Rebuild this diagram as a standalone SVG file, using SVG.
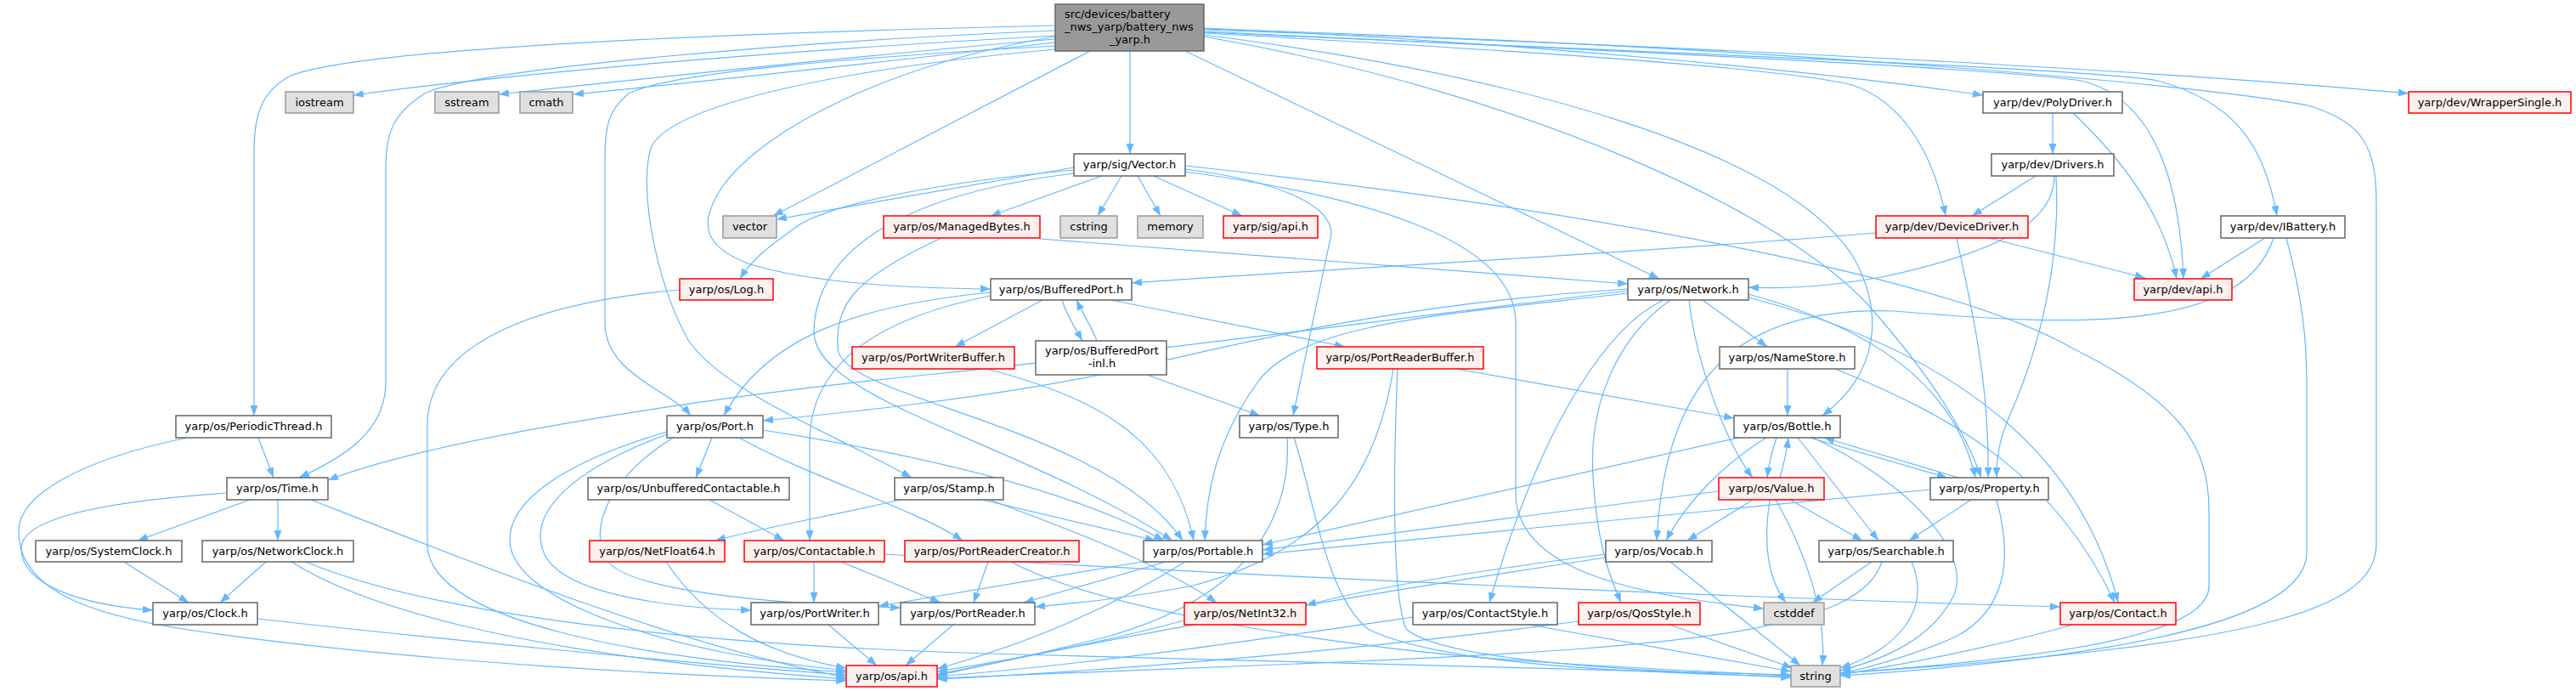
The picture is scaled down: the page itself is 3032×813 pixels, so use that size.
<svg xmlns="http://www.w3.org/2000/svg" width="3032" height="813" viewBox="0 0 3032 813">
<defs>
<marker id="a" viewBox="0 0 12 9" refX="12" refY="4.5" markerWidth="12" markerHeight="9" orient="auto" markerUnits="userSpaceOnUse"><path d="M0,0L12,4.5L0,9z" fill="#63b8ff"/></marker>
</defs>
<style>
rect{stroke-width:1.5}
.w rect{fill:#fff;stroke:#666}
.r rect{fill:#fff0f0;stroke:#f00}
.g rect{fill:#e0e0e0;stroke:#999}
.m rect{fill:#999;stroke:#666}
text{font-family:"DejaVu Sans","Liberation Sans",sans-serif;font-size:13px;fill:#000;text-anchor:middle}
text.s{text-anchor:start}
#edges path{fill:none;stroke:#63b8ff;stroke-width:1.2;marker-end:url(#a)}
</style>
<rect width="3032" height="813" fill="#fff" style="stroke:none"/>
<g id="edges">
<path d="M1242,42 C1000,55 650,80 416,112"/>
<path d="M1242,46 C1050,62 800,88 587,111"/>
<path d="M1242,50 C1080,68 850,94 675,111"/>
<path d="M1242,30 C900,38 420,55 340,90 C305,110 299,140 299,180 L299,489"/>
<path d="M1242,36 C950,48 560,80 500,110 C460,135 454,160 454,200 L454,450 C454,510 400,540 352,562"/>
<path d="M1242,54 C1000,68 790,85 740,110 C715,130 712,150 712,190 L712,380 C712,440 790,460 813,489"/>
<path d="M1242,58 C1000,80 800,120 768,170 C750,210 770,330 810,400 C850,460 980,510 1073,562"/>
<path d="M1242,43 C1050,75 900,150 850,220 C820,265 830,290 880,310 C960,335 1080,339 1166,340"/>
<path d="M1283,60 L910,254"/>
<path d="M1330,60 L1330,181"/>
<path d="M1395,60 L1953,328"/>
<path d="M1417,33 C1800,50 2150,85 2334,112"/>
<path d="M1417,35 C2000,55 2500,80 2835,110"/>
<path d="M1417,39 C1800,60 2100,80 2180,100 C2240,120 2275,180 2290,254"/>
<path d="M1417,37 C1900,60 2350,80 2450,95 C2530,115 2565,200 2570,328"/>
<path d="M1417,38 C1950,62 2450,80 2540,95 C2630,120 2665,170 2680,254"/>
<path d="M1417,34 C2100,55 2600,100 2720,125 C2780,145 2797,170 2797,240 L2797,640 C2797,720 2650,760 2166,792"/>
<path d="M1417,41 C1800,90 2100,180 2180,300 C2220,370 2210,440 2145,489"/>
<path d="M1417,43 C1800,110 2100,250 2200,360 C2270,440 2310,500 2332,562"/>
<path d="M1264,197 L914,258"/>
<path d="M1297,207 L1166,254"/>
<path d="M1320,207 L1292,254"/>
<path d="M1339,207 L1366,254"/>
<path d="M1358,207 L1462,254"/>
<path d="M1264,200 C1100,215 980,240 940,265 C905,290 885,305 871,328"/>
<path d="M1264,204 C1050,230 960,300 958,390 C957,470 1200,520 1380,636"/>
<path d="M1395,199 C1500,212 1567,240 1567,275 L1522,489"/>
<path d="M1395,202 C1600,230 1784,280 1784,380 L1784,580 C1784,670 1920,700 2076,716"/>
<path d="M1395,195 C1900,250 2300,330 2440,410 C2560,470 2600,520 2600,600 L2600,690 C2600,750 2400,775 2166,792"/>
<path d="M800,341 C640,355 503,400 503,500 L503,640 C503,730 750,775 996,791"/>
<path d="M304,515 L322,562"/>
<path d="M220,515 C100,540 22,580 22,625 C22,700 120,728 250,745 C500,780 800,795 996,801"/>
<path d="M294,588 L162,636"/>
<path d="M327,588 L327,636"/>
<path d="M267,580 C120,590 25,610 25,645 C25,690 100,712 180,718"/>
<path d="M366,588 C550,660 800,760 996,797"/>
<path d="M146,661 L222,709"/>
<path d="M313,661 L259,709"/>
<path d="M343,661 C420,710 600,770 996,799"/>
<path d="M360,661 C500,720 800,760 1200,770 C1600,780 1900,788 2108,794"/>
<path d="M303,728 C500,750 800,780 996,794"/>
<path d="M838,515 L819,562"/>
<path d="M898,506 C1050,530 1250,570 1370,636"/>
<path d="M870,515 C950,560 1080,600 1133,636"/>
<path d="M785,508 C660,545 600,590 600,635 C600,710 800,770 996,789"/>
<path d="M785,511 C680,550 620,600 640,650 C660,700 790,715 884,718"/>
<path d="M792,515 C720,560 690,620 715,660 C745,700 950,712 1060,715"/>
<path d="M835,588 L923,636"/>
<path d="M1059,588 C990,605 900,620 842,636"/>
<path d="M1156,588 L1360,636"/>
<path d="M1165,588 C1250,620 1360,660 1432,709"/>
<path d="M958,661 L958,709"/>
<path d="M990,661 L1107,709"/>
<path d="M1041,652 C1500,680 2100,705 2425,714"/>
<path d="M1163,661 L1146,709"/>
<path d="M1190,661 C1300,720 1600,765 1800,778 C1950,788 2050,792 2108,795"/>
<path d="M1350,660 L1034,713"/>
<path d="M1372,661 L1205,709"/>
<path d="M1395,661 C1300,720 1200,760 1103,787"/>
<path d="M975,735 L1032,783"/>
<path d="M1122,735 L1066,783"/>
<path d="M1394,730 C1300,755 1200,775 1103,790"/>
<path d="M784,661 C830,730 900,770 996,786"/>
<path d="M1523,515 C1545,580 1560,700 1610,740 C1700,785 1950,792 2108,796"/>
<path d="M1515,515 C1520,600 1480,700 1300,750 C1200,775 1150,785 1103,793"/>
<path d="M1250,353 C1255,370 1265,385 1274,401"/>
<path d="M1291,401 C1285,385 1275,370 1267,353"/>
<path d="M1350,441 L1483,489"/>
<path d="M1227,353 L1124,408"/>
<path d="M1308,353 L1583,408"/>
<path d="M1166,344 C1000,360 900,400 852,489"/>
<path d="M1166,348 C1030,375 953,430 953,520 L953,636"/>
<path d="M1161,434 C1300,470 1380,520 1405,636"/>
<path d="M1714,434 L2041,492"/>
<path d="M1645,434 C1640,550 1638,700 1655,740 C1700,780 1950,790 2108,797"/>
<path d="M1640,434 C1620,560 1560,650 1400,690 C1320,705 1260,710 1218,714"/>
<path d="M2104,434 L2104,489"/>
<path d="M2160,434 C2300,490 2420,560 2489,709"/>
<path d="M2004,353 L2080,408"/>
<path d="M1988,353 C1995,420 2030,520 2063,562"/>
<path d="M1958,353 C1900,380 1820,480 1753,709"/>
<path d="M1966,353 C1900,400 1870,480 1875,560 C1880,650 1900,690 1908,709"/>
<path d="M2058,346 C2200,385 2300,450 2325,562"/>
<path d="M2058,350 C2250,400 2440,500 2493,709"/>
<path d="M1916,345 C1700,370 1530,380 1480,450 C1430,520 1420,580 1418,636"/>
<path d="M1916,340 C1600,360 1400,420 1300,440 C1150,470 1000,485 898,495"/>
<path d="M1916,342 C1600,380 1300,420 1100,440 C800,470 500,520 386,565"/>
<path d="M2091,515 C2086,530 2082,545 2080,562"/>
<path d="M2095,562 C2100,545 2103,530 2105,515"/>
<path d="M2079,515 C2030,545 1985,590 1961,636"/>
<path d="M2116,515 L2211,636"/>
<path d="M2130,515 L2292,562"/>
<path d="M2305,562 L2147,515"/>
<path d="M2134,515 C2250,570 2320,650 2300,700 C2270,760 2200,780 2166,789"/>
<path d="M2046,515 L1486,641"/>
<path d="M2063,588 L1986,636"/>
<path d="M2107,588 L2192,636"/>
<path d="M2083,588 C2075,640 2080,680 2102,709"/>
<path d="M2090,588 C2125,650 2150,720 2145,783"/>
<path d="M2023,578 L1486,647"/>
<path d="M2320,588 L2247,636"/>
<path d="M2350,588 C2370,660 2360,720 2300,750 C2250,772 2200,785 2166,793"/>
<path d="M2272,576 L1486,652"/>
<path d="M2203,661 L2133,709"/>
<path d="M2250,661 C2275,720 2230,765 2166,786"/>
<path d="M2215,661 C2190,740 2000,760 1600,778 C1300,790 1150,795 1103,798"/>
<path d="M1966,661 L2119,783"/>
<path d="M1890,652 C1750,670 1620,690 1537,712"/>
<path d="M1890,656 C1600,700 1300,750 1103,795"/>
<path d="M1800,735 L2108,790"/>
<path d="M1663,726 C1500,750 1300,780 1103,796"/>
<path d="M1965,735 L2110,786"/>
<path d="M1858,731 C1600,765 1300,790 1103,799"/>
<path d="M2440,735 C2350,760 2250,780 2166,794"/>
<path d="M2396,207 L2321,254"/>
<path d="M2418,207 C2418,250 2380,290 2220,325 C2150,338 2100,340 2058,338"/>
<path d="M2420,207 C2425,300 2405,400 2365,490 C2352,520 2350,540 2350,562"/>
<path d="M2416,133 L2416,181"/>
<path d="M2440,133 C2500,190 2545,250 2562,328"/>
<path d="M2341,280 L2525,327"/>
<path d="M2303,280 C2320,360 2342,450 2340,562"/>
<path d="M2208,274 C1900,300 1500,320 1332,333"/>
<path d="M2666,280 L2590,328"/>
<path d="M2676,280 C2640,390 2450,385 2230,366 C2050,360 1960,440 1950,636"/>
<path d="M2691,280 C2710,350 2715,400 2715,450 L2715,650 C2715,720 2550,770 2166,795"/>
<path d="M1224,281 L1916,334"/>
<path d="M1108,280 C1000,330 984,360 986,410 C990,470 1300,500 1392,636"/>
</g>
<g id="n-main" class="m"><rect x="1242" y="5" width="175" height="55"/><text class="s" x="1253" y="21">src/devices/battery</text><text class="s" x="1253" y="36">_nws_yarp/battery_nws</text><text x="1330" y="51">_yarp.h</text></g>
<g id="n-iostream" class="g"><rect x="336" y="108" width="80" height="25"/><text x="376" y="125">iostream</text></g>
<g id="n-sstream" class="g"><rect x="512" y="108" width="75" height="25"/><text x="549.5" y="125">sstream</text></g>
<g id="n-cmath" class="g"><rect x="612" y="108" width="62" height="25"/><text x="643" y="125">cmath</text></g>
<g id="n-polydriver" class="w"><rect x="2334" y="108" width="164" height="25"/><text x="2416" y="125">yarp/dev/PolyDriver.h</text></g>
<g id="n-wrappersingle" class="r"><rect x="2835" y="108" width="191" height="25"/><text x="2930.5" y="125">yarp/dev/WrapperSingle.h</text></g>
<g id="n-vector-h" class="w"><rect x="1264" y="181" width="131" height="26"/><text x="1329.5" y="198">yarp/sig/Vector.h</text></g>
<g id="n-drivers" class="w"><rect x="2344" y="181" width="144" height="26"/><text x="2416" y="198">yarp/dev/Drivers.h</text></g>
<g id="n-vector" class="g"><rect x="851" y="254" width="63" height="26"/><text x="882.5" y="271">vector</text></g>
<g id="n-managedbytes" class="r"><rect x="1040" y="254" width="184" height="26"/><text x="1132" y="271">yarp/os/ManagedBytes.h</text></g>
<g id="n-cstring" class="g"><rect x="1248" y="254" width="67" height="26"/><text x="1281.5" y="271">cstring</text></g>
<g id="n-memory" class="g"><rect x="1339" y="254" width="77" height="26"/><text x="1377.5" y="271">memory</text></g>
<g id="n-sigapi" class="r"><rect x="1440" y="254" width="111" height="26"/><text x="1495.5" y="271">yarp/sig/api.h</text></g>
<g id="n-devicedriver" class="r"><rect x="2208" y="254" width="179" height="26"/><text x="2297.5" y="271">yarp/dev/DeviceDriver.h</text></g>
<g id="n-ibattery" class="w"><rect x="2614" y="254" width="146" height="26"/><text x="2687" y="271">yarp/dev/IBattery.h</text></g>
<g id="n-log" class="r"><rect x="800" y="328" width="110" height="25"/><text x="855" y="345">yarp/os/Log.h</text></g>
<g id="n-bufferedport" class="w"><rect x="1166" y="328" width="166" height="25"/><text x="1249" y="345">yarp/os/BufferedPort.h</text></g>
<g id="n-network" class="w"><rect x="1916" y="328" width="142" height="25"/><text x="1987" y="345">yarp/os/Network.h</text></g>
<g id="n-devapi" class="r"><rect x="2512" y="328" width="115" height="25"/><text x="2569.5" y="345">yarp/dev/api.h</text></g>
<g id="n-portwriterbuffer" class="r"><rect x="1003" y="408" width="191" height="26"/><text x="1098.5" y="425">yarp/os/PortWriterBuffer.h</text></g>
<g id="n-bufferedport-inl" class="w"><rect x="1219" y="401" width="154" height="40"/><text class="s" x="1230" y="417">yarp/os/BufferedPort</text><text x="1297" y="432">-inl.h</text></g>
<g id="n-portreaderbuffer" class="r"><rect x="1550" y="408" width="196" height="26"/><text x="1648" y="425">yarp/os/PortReaderBuffer.h</text></g>
<g id="n-namestore" class="w"><rect x="2024" y="408" width="159" height="26"/><text x="2103.5" y="425">yarp/os/NameStore.h</text></g>
<g id="n-periodicthread" class="w"><rect x="207" y="489" width="183" height="26"/><text x="298.5" y="506">yarp/os/PeriodicThread.h</text></g>
<g id="n-port" class="w"><rect x="785" y="489" width="113" height="26"/><text x="841.5" y="506">yarp/os/Port.h</text></g>
<g id="n-type" class="w"><rect x="1459" y="489" width="116" height="26"/><text x="1517" y="506">yarp/os/Type.h</text></g>
<g id="n-bottle" class="w"><rect x="2041" y="489" width="125" height="26"/><text x="2103.5" y="506">yarp/os/Bottle.h</text></g>
<g id="n-time" class="w"><rect x="267" y="562" width="119" height="26"/><text x="326.5" y="579">yarp/os/Time.h</text></g>
<g id="n-unbuffered" class="w"><rect x="692" y="562" width="237" height="26"/><text x="810.5" y="579">yarp/os/UnbufferedContactable.h</text></g>
<g id="n-stamp" class="w"><rect x="1053" y="562" width="128" height="26"/><text x="1117" y="579">yarp/os/Stamp.h</text></g>
<g id="n-value" class="r"><rect x="2023" y="562" width="124" height="26"/><text x="2085" y="579">yarp/os/Value.h</text></g>
<g id="n-property" class="w"><rect x="2272" y="562" width="139" height="26"/><text x="2341.5" y="579">yarp/os/Property.h</text></g>
<g id="n-systemclock" class="w"><rect x="42" y="636" width="172" height="25"/><text x="128" y="653">yarp/os/SystemClock.h</text></g>
<g id="n-networkclock" class="w"><rect x="238" y="636" width="178" height="25"/><text x="327" y="653">yarp/os/NetworkClock.h</text></g>
<g id="n-netfloat64" class="r"><rect x="694" y="636" width="159" height="25"/><text x="773.5" y="653">yarp/os/NetFloat64.h</text></g>
<g id="n-contactable" class="r"><rect x="876" y="636" width="165" height="25"/><text x="958.5" y="653">yarp/os/Contactable.h</text></g>
<g id="n-portreadercreator" class="r"><rect x="1065" y="636" width="205" height="25"/><text x="1167.5" y="653">yarp/os/PortReaderCreator.h</text></g>
<g id="n-portable" class="w"><rect x="1346" y="636" width="140" height="25"/><text x="1416" y="653">yarp/os/Portable.h</text></g>
<g id="n-vocab" class="w"><rect x="1890" y="636" width="125" height="25"/><text x="1952.5" y="653">yarp/os/Vocab.h</text></g>
<g id="n-searchable" class="w"><rect x="2141" y="636" width="158" height="25"/><text x="2220" y="653">yarp/os/Searchable.h</text></g>
<g id="n-clock" class="w"><rect x="180" y="709" width="123" height="26"/><text x="241.5" y="726">yarp/os/Clock.h</text></g>
<g id="n-portwriter" class="w"><rect x="884" y="709" width="150" height="26"/><text x="959" y="726">yarp/os/PortWriter.h</text></g>
<g id="n-portreader" class="w"><rect x="1060" y="709" width="158" height="26"/><text x="1139" y="726">yarp/os/PortReader.h</text></g>
<g id="n-netint32" class="r"><rect x="1394" y="709" width="143" height="26"/><text x="1465.5" y="726">yarp/os/NetInt32.h</text></g>
<g id="n-contactstyle" class="w"><rect x="1663" y="709" width="170" height="26"/><text x="1748" y="726">yarp/os/ContactStyle.h</text></g>
<g id="n-qosstyle" class="r"><rect x="1858" y="709" width="143" height="26"/><text x="1929.5" y="726">yarp/os/QosStyle.h</text></g>
<g id="n-cstddef" class="g"><rect x="2076" y="709" width="71" height="26"/><text x="2111.5" y="726">cstddef</text></g>
<g id="n-contact" class="r"><rect x="2425" y="709" width="136" height="26"/><text x="2493" y="726">yarp/os/Contact.h</text></g>
<g id="n-api" class="r"><rect x="996" y="783" width="107" height="25"/><text x="1049.5" y="800">yarp/os/api.h</text></g>
<g id="n-string" class="g"><rect x="2108" y="783" width="58" height="25"/><text x="2137" y="800">string</text></g>
</svg>
